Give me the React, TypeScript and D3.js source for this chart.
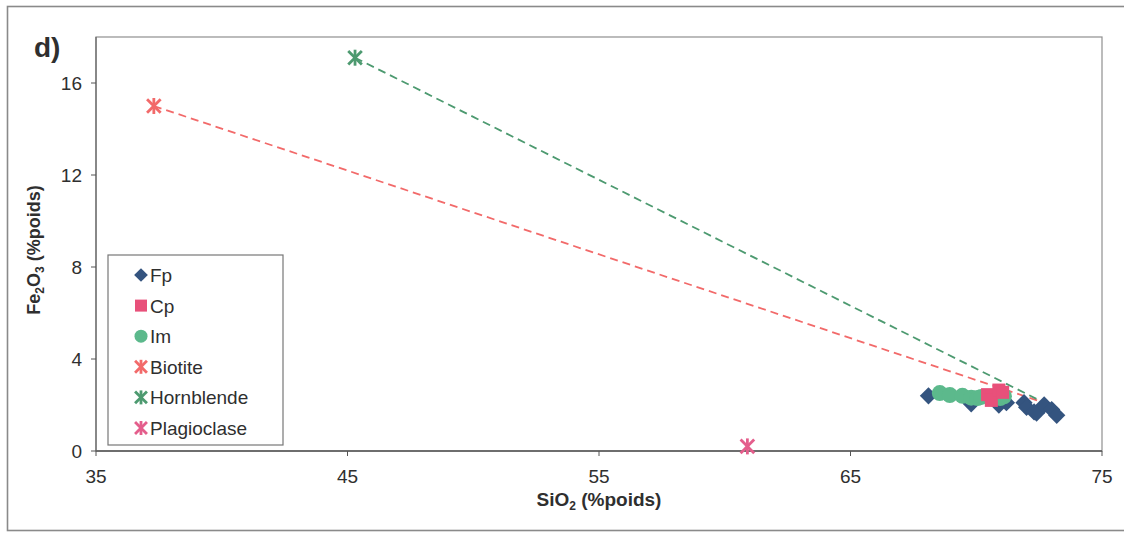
import React from "react";
import * as d3 from "d3";

// SiO2 vs Fe2O3 (% poids)
const fpSi = [68.1, 69.8, 70.9, 71.9, 72.0, 72.3, 72.4, 72.7, 73.0, 73.2, 71.2];
const fpFe = [2.4, 2.05, 2.0, 2.1, 1.9, 1.7, 1.65, 2.0, 1.8, 1.55, 2.1];
const cpSi = [70.45, 70.6, 70.9, 71.05];
const cpFe = [2.45, 2.2, 2.65, 2.55];
const imSi = [68.55, 68.95, 69.45, 69.8, 70.05, 70.2, 70.95, 71.1];
const imFe = [2.52, 2.43, 2.4, 2.32, 2.3, 2.35, 2.3, 2.38];
const biotite = [37.3, 15.0];
const hornblende = [45.3, 17.1];
const plagioclase = [60.9, 0.2];
const mixEnd = [72.7, 2.1];
const xTicks = [35, 45, 55, 65, 75];
const yTicks = [0, 4, 8, 12, 16];
const legendNames = ["Fp", "Cp", "Im", "Biotite", "Hornblende", "Plagioclase"];

const C = {
  fp: "#34547f",
  cp: "#e8507a",
  im: "#5cb98c",
  bio: "#f26a6a",
  hbl: "#4d9a70",
  plg: "#e45e8c",
};

const x = d3.scaleLinear().domain([35, 75]).range([96, 1102]);
const y = d3.scaleLinear().domain([0, 18]).range([451, 37]);

// asterisk marker: an X crossed by a vertical stroke
function Star({ cx, cy, color, s = 8 }: { cx: number; cy: number; color: string; s?: number }) {
  const h = s * 0.85;
  return (
    <g stroke={color} strokeWidth={2.8} strokeLinecap="butt">
      <line x1={cx - h} y1={cy - h} x2={cx + h} y2={cy + h} />
      <line x1={cx - h} y1={cy + h} x2={cx + h} y2={cy - h} />
      <line x1={cx} y1={cy - s} x2={cx} y2={cy + s} />
    </g>
  );
}

const diamond = d3.symbol().type(d3.symbolDiamond2).size(190);

export default function App() {
  const font = "Arial, 'Liberation Sans', sans-serif";
  const ink = "#2f2f2f";
  const legendX = 108;
  const legendY = 255;
  const rowY = (i: number) => 275 + i * 30.6;
  return (
    <svg width={1124} height={534} style={{ position: "absolute", left: 0, top: 0, background: "#fff" }} fontFamily={font}>
      {/* outer frame */}
      <rect x={7.5} y={6.5} width={1130} height={524} fill="none" stroke="#8a8a8a" strokeWidth={1.6} />
      <text x={34} y={57} fontSize={28} fontWeight="bold" fill={ink}>d)</text>

      {/* plot frame */}
      <rect x={x(35)} y={y(18)} width={x(75) - x(35)} height={y(0) - y(18)} fill="none" stroke="#8f8f8f" strokeWidth={1.2} />
      <line x1={x(35)} x2={x(75)} y1={y(0)} y2={y(0)} stroke="#555" strokeWidth={1.4} />
      <line x1={x(35)} x2={x(35)} y1={y(0)} y2={y(18)} stroke="#666" strokeWidth={1.2} />

      {yTicks.map((t) => (
        <g key={"y" + t}>
          <line x1={x(35) - 5} x2={x(35)} y1={y(t)} y2={y(t)} stroke="#555" />
          <text x={x(35) - 14} y={y(t) + 7} textAnchor="end" fontSize={19} fill={ink}>{t}</text>
        </g>
      ))}
      {xTicks.map((t) => (
        <g key={"x" + t}>
          <line x1={x(t)} x2={x(t)} y1={y(0)} y2={y(0) + 5} stroke="#555" />
          <text x={x(t)} y={y(0) + 32} textAnchor="middle" fontSize={19} fill={ink}>{t}</text>
        </g>
      ))}

      <text x={x(55)} y={506} textAnchor="middle" fontSize={19} fontWeight="bold" fill={ink}>
        SiO<tspan fontSize={12} dy={4}>2</tspan><tspan dy={-4}> (%poids)</tspan>
      </text>
      <text transform={`translate(40,250) rotate(-90)`} textAnchor="middle" fontSize={18} fontWeight="bold" fill={ink}>
        Fe<tspan fontSize={12} dy={4}>2</tspan><tspan dy={-4}>O</tspan><tspan fontSize={12} dy={4}>3</tspan><tspan dy={-4}> (%poids)</tspan>
      </text>

      {/* mixing lines */}
      <line x1={x(biotite[0])} y1={y(biotite[1])} x2={x(mixEnd[0])} y2={y(mixEnd[1])} stroke={C.bio} strokeWidth={1.8} strokeDasharray="8 5" />
      <line x1={x(hornblende[0])} y1={y(hornblende[1])} x2={x(mixEnd[0])} y2={y(mixEnd[1])} stroke={C.hbl} strokeWidth={1.8} strokeDasharray="8 5" />

      {/* samples */}
      {fpSi.map((v, i) => (
        <path key={"fp" + i} d={diamond() as string} transform={`translate(${x(v)},${y(fpFe[i])})`} fill={C.fp} />
      ))}
      {imSi.map((v, i) => (
        <circle key={"im" + i} cx={x(v)} cy={y(imFe[i])} r={8} fill={C.im} />
      ))}
      {cpSi.map((v, i) => (
        <rect key={"cp" + i} x={x(v) - 6.5} y={y(cpFe[i]) - 6.5} width={13} height={13} fill={C.cp} />
      ))}

      <Star cx={x(biotite[0])} cy={y(biotite[1])} color={C.bio} />
      <Star cx={x(hornblende[0])} cy={y(hornblende[1])} color={C.hbl} />
      <Star cx={x(plagioclase[0])} cy={y(plagioclase[1])} color={C.plg} />

      {/* legend */}
      <rect x={legendX} y={legendY} width={175} height={190} fill="#fff" stroke="#777" strokeWidth={1.2} />
      {legendNames.map((name, i) => {
        const cy = rowY(i);
        const mx = 141;
        let marker: React.ReactNode = null;
        if (i === 0) marker = <path d={d3.symbol().type(d3.symbolDiamond2).size(120)() as string} transform={`translate(${mx},${cy})`} fill={C.fp} />;
        if (i === 1) marker = <rect x={mx - 6} y={cy - 6} width={12} height={12} fill={C.cp} />;
        if (i === 2) marker = <circle cx={mx} cy={cy} r={6.5} fill={C.im} />;
        if (i === 3) marker = <Star cx={mx} cy={cy} color={C.bio} s={7} />;
        if (i === 4) marker = <Star cx={mx} cy={cy} color={C.hbl} s={7} />;
        if (i === 5) marker = <Star cx={mx} cy={cy} color={C.plg} s={7} />;
        return (
          <g key={name}>
            {marker}
            <text x={150} y={cy + 7} fontSize={19} fill={ink}>{name}</text>
          </g>
        );
      })}
    </svg>
  );
}
